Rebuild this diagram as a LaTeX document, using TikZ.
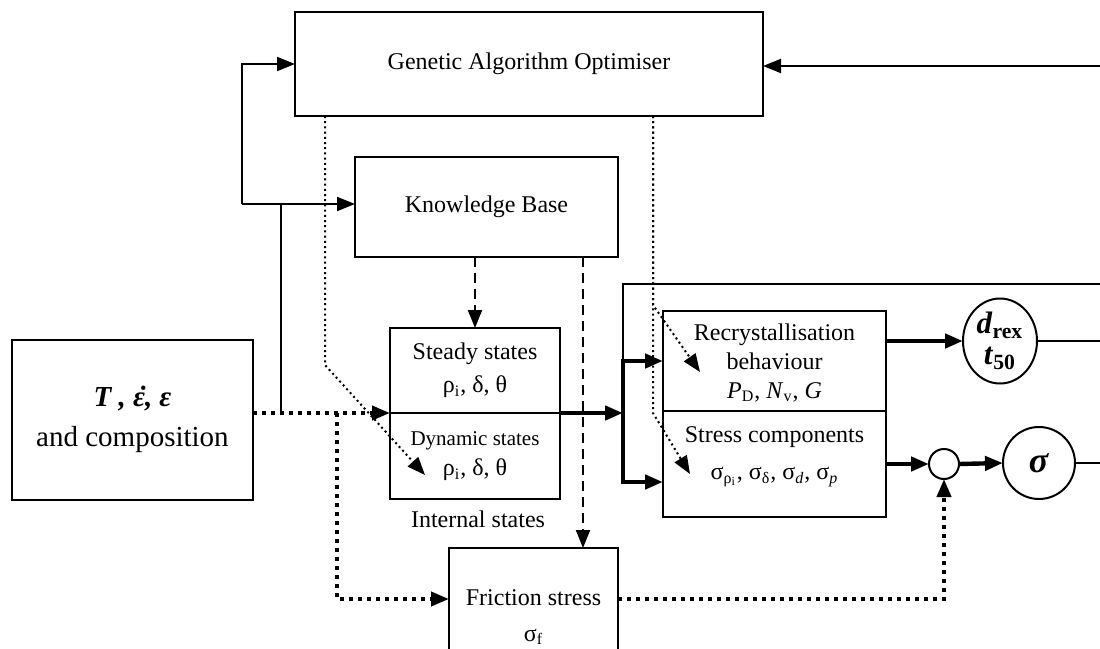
\documentclass[tikz,border=0pt]{standalone}
\usepackage{fontspec}
\setmainfont{Liberation Serif}
\usetikzlibrary{arrows.meta,shapes.geometric}
\newcommand{\dotover}[1]{\ooalign{#1\cr\hidewidth\kern0.18em˙\hidewidth\cr}}

\begin{document}
\begin{tikzpicture}[x=0.5pt,y=-0.5pt,
  box/.style={draw,line width=1pt,align=center,inner sep=0pt,outer sep=0pt,font=\fontsize{12}{14.4}\selectfont},
  tip/.style={-{Triangle[length=9pt,width=7pt]}},
  thinline/.style={line width=1pt},
  heavy/.style={line width=2.2pt},
  heavydot/.style={line width=2pt,dash pattern=on 2pt off 2.5pt},
  finedot/.style={line width=1pt,dash pattern=on 1pt off 1.6pt},
  kbdash/.style={line width=1pt,dash pattern=on 5pt off 3pt}]
\useasboundingbox (0,0) rectangle (1100,649);
\clip (0,0) rectangle (1100,649);

% Boxes
\node[box,minimum width=234pt,minimum height=52pt] (ga) at (529,64) {Genetic Algorithm Optimiser};
\node[box,minimum width=131.5pt,minimum height=50pt] (kb) at (486.5,207) {Knowledge Base};
\node[box,minimum width=120.5pt,minimum height=80pt,font=\fontsize{14.5}{17.4}\selectfont] (inp) at (132.5,420)
  {\textbf{\textit{T , \dotover{ε}, ε}}\\[2.6pt] and composition};
\node[box,minimum width=85pt,minimum height=42.5pt] (steady) at (475,370.5)
  {Steady states\\[2pt] ρ\textsubscript{i}, δ, θ};
\node[box,minimum width=85pt,minimum height=43pt,anchor=north] (dyn) at (steady.south)
  {{\fontsize{10.5}{12}\selectfont Dynamic states}\\[1pt] ρ\textsubscript{i}, δ, θ};
\node[font=\fontsize{12}{14.4}\selectfont] (intlab) at (478,519) {Internal states};
\node[box,minimum width=111.5pt,minimum height=50pt,text depth=-2.5pt] (rec) at (774.5,361)
  {Recrystallisation\\ behaviour\\ \textit{P}\textsubscript{D}, \textit{N}\textsubscript{v}, \textit{G}};
\node[box,minimum width=111.5pt,minimum height=53pt,anchor=north,text depth=11pt] (str) at (rec.south)
  {Stress components\\[4.5pt] σ\textsubscript{ρ\textsubscript{i}}, σ\textsubscript{δ}, σ\textsubscript{\textit{d}}, σ\textsubscript{\textit{p}}};
\node[box,minimum width=84.5pt,minimum height=69pt] (fric) at (533.5,617) {Friction stress\\[3.6pt] σ\textsubscript{f}};

% Outputs
\node[draw,line width=1pt,ellipse,minimum width=37pt,minimum height=42.5pt,inner sep=0pt,outer sep=0pt,align=center,
  font=\fontsize{15.5}{15.5}\selectfont] (dr) at (1000,341)
  {\textbf{\textit{d}}\textsubscript{\textbf{rex}}\\ \textbf{\textit{t}}\textsubscript{\textbf{50}}};
\node[draw,line width=1pt,circle,minimum size=15pt,inner sep=0pt,outer sep=0pt] (sum) at (944,464) {};
\node[draw,line width=1pt,circle,minimum size=36pt,inner sep=0pt,outer sep=0pt,font=\fontsize{18}{20}\selectfont] (sig) at (1039,463)
  {\textbf{\textit{σ}}};

% Free ends and branch points
\coordinate (gaback) at (1100,66);
\coordinate (topline) at (1100,284);
\coordinate (split) at (242,204);
\coordinate (tap) at (281,413);
\coordinate (drop) at (337,413);
\coordinate (fork) at (623,413);
\coordinate (ga1) at ([xshift=15pt]ga.south west);
\coordinate (ga2) at ([xshift=-55pt]ga.south east);
\coordinate (dyntip) at (425,475);
\coordinate (rectip) at (700,372);
\coordinate (strtip) at (690,474);

% Feedback to the optimiser
\draw[thinline,tip] (gaback) -- (gaback -| ga.east);

% Process conditions
\draw[heavydot,tip] (inp.east |- steady.south) -- (steady.south west);
\draw[thinline] (tap) -- (tap |- split) -- (split);
\draw[thinline,tip] (split) -- (split -| kb.west);
\draw[thinline,tip] (split) |- (ga.west);
\draw[heavydot,tip] (drop) |- ([yshift=9pt]fric.west);

% Parameters from the optimiser
\draw[finedot,tip] (ga1) -- ++(0,249) -- (dyntip);
\draw[finedot,tip] (ga2) -- ++(0,189) -- (rectip);
\draw[finedot,tip] (ga2) -- ++(0,297) -- (strtip);

% Knowledge base
\draw[kbdash,tip] (steady.north |- kb.south) -- (steady.north);
\draw[kbdash,tip] ([xshift=-17.5pt]kb.south east) -- ([xshift=-17.5pt]fric.north east);

% Internal states to the models
\draw[heavy,tip] (steady.south east) -- (fork);
\draw[heavy,tip] (fork) |- (rec.west);
\draw[heavy,tip] (fork) |- ([yshift=-9pt]str.west);
\draw[thinline] (fork |- rec.west) |- (topline);

% Outputs
\draw[heavy,tip] (rec.east |- dr.west) -- (dr.west);
\draw[thinline] (dr.east) -- (dr.east -| gaback);
\draw[heavy,tip] (str.east) -- (sum.west);
\draw[heavy,tip] (sum.east) -- (sig.west);
\draw[thinline] (sig.east) -- (sig.east -| gaback);
\draw[heavydot,tip] ([yshift=9pt]fric.east) -| (sum.south);
\end{tikzpicture}
\end{document}
